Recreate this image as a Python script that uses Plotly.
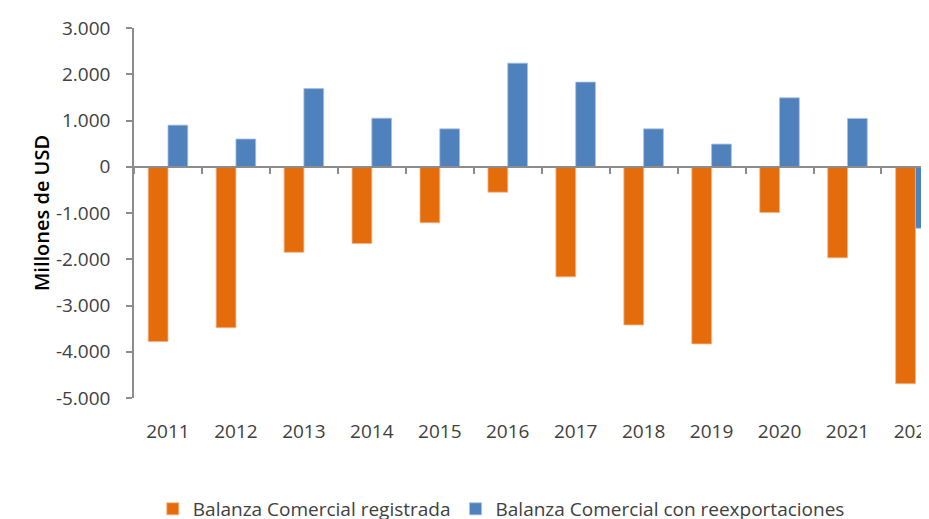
import plotly.graph_objects as go

years = ["2011", "2012", "2013", "2014", "2015", "2016", "2017", "2018", "2019", "2020", "2021", "2022"]
registrada = [-3780, -3480, -1850, -1660, -1210, -550, -2380, -3420, -3830, -990, -1970, -4690]
reexport = [900, 600, 1690, 1050, 820, 2240, 1830, 820, 490, 1490, 1045, -1330]
ytick_vals = [3000, 2000, 1000, 0, -1000, -2000, -3000, -4000, -5000]
ytick_text = ["3.000", "2.000", "1.000", "0", "-1.000", "-2.000", "-3.000", "-4.000", "-5.000"]

ORANGE = "#E46C0A"
BLUE = "#4F81BD"
GREY = "#8C8C8C"
FONT = "Open Sans"

fig = go.Figure()
fig.add_trace(go.Bar(x=years, y=registrada, name="Balanza Comercial registrada",
                     marker=dict(color=ORANGE, line=dict(color="#F2B48A", width=0.8))))
fig.add_trace(go.Bar(x=years, y=reexport, name="Balanza Comercial con reexportaciones",
                     marker=dict(color=BLUE, line=dict(color="#A9C0DE", width=0.8))))
# invisible helper trace so the zero-line axis gets its category ticks
fig.add_trace(go.Scatter(x=years, y=reexport, xaxis="x2", mode="markers",
                         marker=dict(opacity=0), showlegend=False, hoverinfo="skip"))

xr = [-0.5, 11.17]
fig.update_layout(
    width=929, height=519,
    margin=dict(l=126, r=0, t=20, b=129),
    plot_bgcolor="white", paper_bgcolor="white",
    barmode="group", bargap=0.418, bargroupgap=0,
    font=dict(family=FONT, size=19, color="#404040"),
    xaxis=dict(type="category", range=xr, showline=False, ticks="", showgrid=False,
               zeroline=False, tickfont=dict(size=19, color="#404040"),
               ticklabelstandoff=20),
    xaxis2=dict(type="category", range=xr, overlaying="x", anchor="free", position=0.625,
                showline=True, linecolor=GREY, linewidth=1.5, ticks="outside",
                tickson="boundaries", ticklen=6, tickcolor=GREY, tickwidth=1.5,
                showticklabels=False, showgrid=False, zeroline=False),
    yaxis=dict(range=[-5000, 3000], tickvals=ytick_vals, ticktext=ytick_text,
               showline=True, linecolor=GREY, linewidth=1.5, ticks="outside",
               ticklen=6, tickcolor=GREY, tickwidth=1.5, showgrid=False, zeroline=False,
               tickfont=dict(size=19, color="#404040"), ticklabelstandoff=12,
               title=dict(text="Millones de USD",
                          font=dict(size=20, color="black", family=FONT, weight=600),
                          standoff=1)),
    legend=dict(orientation="h", xref="container", x=0.531, xanchor="center",
                yref="container", y=0.0347, yanchor="middle", itemwidth=30,
                font=dict(size=19, color="#404040"), traceorder="normal"),
)
fig.write_html("out.html")
